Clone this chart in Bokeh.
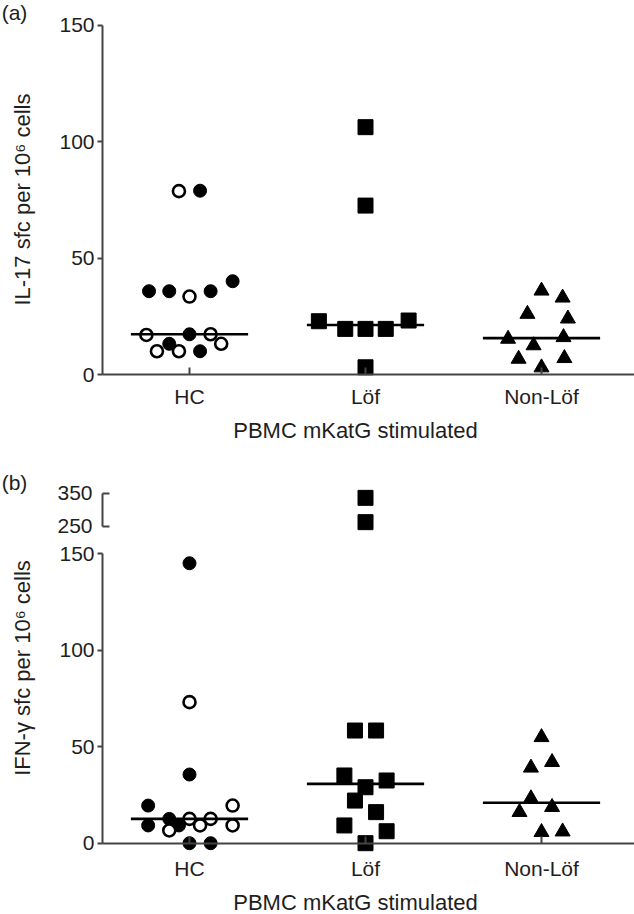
import numpy as np
from bokeh.plotting import figure
from bokeh.models import Range1d, FixedTicker, Label, LinearAxis
from bokeh.layouts import column
from bokeh.embed import file_html
from bokeh.resources import INLINE

# ---------------- data ----------------
categories = ["HC", "Löf", "Non-Löf"]
cat_pos = [1, 2, 3]
y_ticks_main = [0, 50, 100, 150]
y_ticks_break = [250, 350]

# (a) IL-17 sfc per 10^6 cells
a_hc_filled = [79.0, 35.8, 35.8, 35.8, 40.1, 17.3, 13.2, 10.0]
a_hc_filled_dx = [0.06, -0.23, -0.115, 0.12, 0.245, 0.0, -0.115, 0.06]
a_hc_open = [78.8, 33.5, 17.0, 17.3, 10.0, 10.0, 13.2]
a_hc_open_dx = [-0.06, 0.0, -0.245, 0.12, -0.185, -0.06, 0.18]
a_lof = [106.3, 72.6, 22.9, 19.6, 19.6, 19.6, 23.2, 3.1]
a_lof_dx = [0.0, 0.0, -0.265, -0.115, 0.0, 0.115, 0.245, 0.0]
a_non = [36.0, 33.0, 26.0, 24.0, 15.3, 16.0, 12.5, 6.7, 7.0, 3.0]
a_non_dx = [0.0, 0.12, -0.08, 0.15, -0.19, 0.125, -0.045, -0.13, 0.13, 0.0]

# (b) IFN-gamma sfc per 10^6 cells
b_hc_filled = [145.1, 35.6, 19.5, 9.2, 12.6, 9.2, 0.0, 0.0]
b_hc_filled_dx = [0.0, 0.0, -0.235, -0.235, -0.115, -0.06, 0.0, 0.12]
b_hc_open = [73.1, 19.5, 6.6, 12.6, 9.2, 12.6, 9.2]
b_hc_open_dx = [0.0, 0.245, -0.115, 0.0, 0.06, 0.12, 0.245]
b_lof = [336.0, 263.0, 58.4, 58.4, 35.1, 29.0, 32.5, 22.1, 16.1, 9.2, 6.2, 0.0]
b_lof_dx = [0.0, 0.0, -0.06, 0.06, -0.12, 0.0, 0.12, -0.06, 0.06, -0.12, 0.12, 0.0]
b_non = [54.9, 42.0, 39.1, 23.2, 18.7, 16.1, 5.7, 6.0]
b_non_dx = [0.0, 0.06, -0.06, -0.06, 0.06, -0.125, 0.0, 0.12]

# ---------------- styling ----------------
FONT = "Liberation Sans"
TXT = "#1e1e1e"
AX = "#444444"
W = 634
XR = (-0.0739, 3.5284)      # frame covers the whole canvas width
YAX_X = 0.5057              # where the y axis sits (in x data units)
HALF = 0.333
FS = "21px"
FS_TITLE = "22px"


def style_axis(ax):
    ax.minor_tick_line_color = None
    ax.axis_line_color = AX
    ax.axis_line_width = 2
    ax.major_tick_line_color = AX
    ax.major_tick_line_width = 2
    ax.major_label_text_font = FONT
    ax.major_label_text_font_size = FS
    ax.major_label_text_color = TXT


def make_fig(height, y0, y1, x_standoff):
    p = figure(width=W, height=height,
               x_range=Range1d(*XR), y_range=Range1d(y0, y1),
               output_backend="svg", toolbar_location=None,
               min_border=0)
    p.outline_line_color = None
    p.xgrid.visible = False
    p.ygrid.visible = False
    p.background_fill_color = "white"
    p.border_fill_color = "white"
    xa = p.xaxis[0]
    style_axis(xa)
    xa.fixed_location = 0
    xa.bounds = (YAX_X, XR[1])
    xa.ticker = FixedTicker(ticks=cat_pos)
    xa.major_label_overrides = {c: n for c, n in zip(cat_pos, categories)}
    xa.major_tick_in = 7
    xa.major_tick_out = 0
    xa.major_label_standoff = x_standoff
    ya = p.yaxis[0]
    style_axis(ya)
    ya.fixed_location = YAX_X
    ya.ticker = FixedTicker(ticks=y_ticks_main)
    ya.bounds = (0, 150)
    ya.major_tick_out = 5
    ya.major_tick_in = 0
    ya.major_label_standoff = 3
    return p


def add_label(p, x, y, text, angle=0, size=FS_TITLE):
    p.add_layout(Label(x=x, y=y, text=text, angle=angle, angle_units="deg",
                       text_font=FONT, text_font_size=size, text_color=TXT,
                       text_align="center", text_baseline="middle"))


def pts(vals, dxs, pos):
    return [pos + d for d in dxs], list(vals)


def filled(p, x, y, marker="circle", size=13, **kw):
    p.scatter(x, y, marker=marker, size=size, fill_color="black",
              line_color="black", line_width=1, **kw)


def hollow(p, x, y, size=12):
    p.scatter(x, y, marker="circle", size=size, fill_color="white",
              line_color="black", line_width=2.6)


def median_line(p, pos, vals):
    m = float(np.median(vals))
    p.segment(x0=[pos - HALF], x1=[pos + HALF], y0=[m], y1=[m],
              line_color="black", line_width=2.6)


# ---------------- panel (a) ----------------
# 150 -> 25 px, 0 -> 374 px (2.3267 px per unit), canvas 450 px tall
pa = make_fig(450, -32.66, 160.74, 10)

x, y = pts(a_hc_filled, a_hc_filled_dx, 1)
filled(pa, x, y)
x, y = pts(a_hc_open, a_hc_open_dx, 1)
hollow(pa, x, y)
x, y = pts(a_lof, a_lof_dx, 2)
filled(pa, x, y, marker="square", size=15)
x, y = pts(a_non, a_non_dx, 3)
filled(pa, x, y, marker="triangle", size=15)
median_line(pa, 1, a_hc_filled + a_hc_open)
median_line(pa, 2, a_lof)
median_line(pa, 3, a_non)

add_label(pa, 0.0057, 155.6, "(a)", size=FS)
add_label(pa, 0.0494, 75.2, "IL-17 sfc per 10\u2076 cells", angle=90)
add_label(pa, 1.943, -24.1, "PBMC mKatG stimulated")

# ---------------- panel (b) ----------------
# main: 150 -> 553.3, 0 -> 842.7 (canvas offset 450); break: 350 -> 492.7, 250 -> 526
pb = make_fig(464, -36.96, 203.54, 14)
pb.extra_y_ranges = {"brk": Range1d(-915.2, 478.2)}
yb = LinearAxis(y_range_name="brk", fixed_location=YAX_X, bounds=(250, 350),
                ticker=FixedTicker(ticks=y_ticks_break))
style_axis(yb)
yb.major_tick_in = 7
yb.major_tick_out = 0
yb.major_label_standoff = 10
pb.add_layout(yb, "left")

b_lof_arr = np.array(b_lof)
b_lof_dx_arr = np.array(b_lof_dx)
hi = b_lof_arr > 150

x, y = pts(b_hc_filled, b_hc_filled_dx, 1)
filled(pb, x, y)
x, y = pts(b_hc_open, b_hc_open_dx, 1)
hollow(pb, x, y)
filled(pb, list(2 + b_lof_dx_arr[~hi]), list(b_lof_arr[~hi]), marker="square", size=15)
filled(pb, list(2 + b_lof_dx_arr[hi]), list(b_lof_arr[hi]), marker="square", size=15,
       y_range_name="brk")
x, y = pts(b_non, b_non_dx, 3)
filled(pb, x, y, marker="triangle", size=15)
median_line(pb, 1, b_hc_filled + b_hc_open)
median_line(pb, 2, b_lof)
median_line(pb, 3, b_non)

add_label(pb, 0.0057, 187.0, "(b)", size=FS)
add_label(pb, 0.0494, 90.8, "IFN-\u03b3 sfc per 10\u2076 cells", angle=90)
add_label(pb, 1.943, -30.6, "PBMC mKatG stimulated")

layout = column(pa, pb, spacing=0)
open("out.html", "w").write(file_html(layout, INLINE))
